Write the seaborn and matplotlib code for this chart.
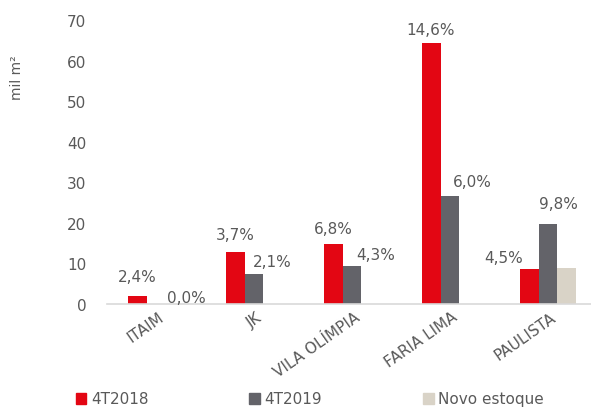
import matplotlib
matplotlib.use("Agg")
import matplotlib.pyplot as plt
import matplotlib.transforms as mtransforms
from matplotlib.patches import Patch
import pandas as pd
import seaborn as sns

# data
regioes = ["ITAIM", "JK", "VILA OLÍMPIA", "FARIA LIMA", "PAULISTA"]
series = ["4T2018", "4T2019", "Novo estoque"]
vals_2018 = [2.0, 12.9, 14.8, 64.4, 8.7]
vals_2019 = [0.0, 7.4, 9.4, 26.7, 19.6]
vals_novo = [0.0, 0.0, 0.0, 0.0, 8.9]
taxa_2018 = ["2,4%", "3,7%", "6,8%", "14,6%", "4,5%"]
taxa_2019 = ["0,0%", "2,1%", "4,3%", "6,0%", "9,8%"]

colors = {"4T2018": "#E30613", "4T2019": "#636369", "Novo estoque": "#D9D3C7"}
text_gray = "#595959"

df = pd.DataFrame({
    "regiao": regioes * 3,
    "serie": [s for s in series for _ in regioes],
    "valor": vals_2018 + vals_2019 + vals_novo,
})

sns.set_style("white")
plt.rcParams["font.family"] = ["DejaVu Sans"]

fig = plt.figure(figsize=(5.91, 4.10), dpi=100)
ax = fig.add_axes([107 / 591, 105 / 410, 490 / 591, 284 / 410])

sns.barplot(data=df, x="regiao", y="valor", hue="serie", order=regioes,
            hue_order=series, palette=colors, width=0.58, linewidth=0,
            saturation=1, errorbar=None, ax=ax)

ax.set_ylim(0, 70)
ax.set_yticks(range(0, 71, 10))
ax.set_xlim(-0.5, len(regioes) - 0.5)
ax.set_xlabel("")
ax.set_ylabel("")
for side in ["top", "right", "left"]:
    ax.spines[side].set_visible(False)
ax.spines["bottom"].set_color("#D9D9D9")
ax.spines["bottom"].set_linewidth(1.2)
ax.tick_params(axis="y", length=0, pad=15, labelsize=11, labelcolor=text_gray)
ax.tick_params(axis="x", length=0, pad=8, labelsize=11, labelcolor=text_gray)

shift = mtransforms.ScaledTranslation(6 / 100, 0, fig.dpi_scale_trans)
for lbl in ax.get_xticklabels():
    lbl.set_rotation(35)
    lbl.set_ha("right")
    lbl.set_va("center")
    lbl.set_rotation_mode("anchor")
    lbl.set_transform(lbl.get_transform() + shift)

# percentage labels above the bars
off_2018 = [(0, 19), (0, 17), (0, 15), (0, 13), (-25, 11)]
off_2019 = [(30, 6), (18, 12), (24, 11), (22, 14), (10, 21)]
bars_2018 = ax.containers[0]
bars_2019 = ax.containers[1]
for bars, labels, offs in [(bars_2018, taxa_2018, off_2018),
                           (bars_2019, taxa_2019, off_2019)]:
    for bar, txt, (dx, dy) in zip(bars, labels, offs):
        ax.annotate(txt, xy=(bar.get_x() + bar.get_width() / 2, bar.get_height()),
                    xytext=(dx, dy), textcoords="offset pixels",
                    ha="center", va="center", fontsize=11, color=text_gray)

fig.text(17 / 591, 1 - 78 / 410, "mil m²", rotation=90, ha="center", va="center",
         fontsize=10, color=text_gray)

ax.get_legend().remove()
handles = [Patch(color=colors[s], label=s) for s in series]
fig.legend(handles=handles, loc="center left", bbox_to_anchor=(68 / 591, 10 / 410),
           ncol=3, frameon=False, fontsize=11, handlelength=0.7, handleheight=0.7,
           handletextpad=0.3, columnspacing=6.6, borderpad=0, labelcolor=text_gray)

fig.savefig("out.png", dpi=100)
